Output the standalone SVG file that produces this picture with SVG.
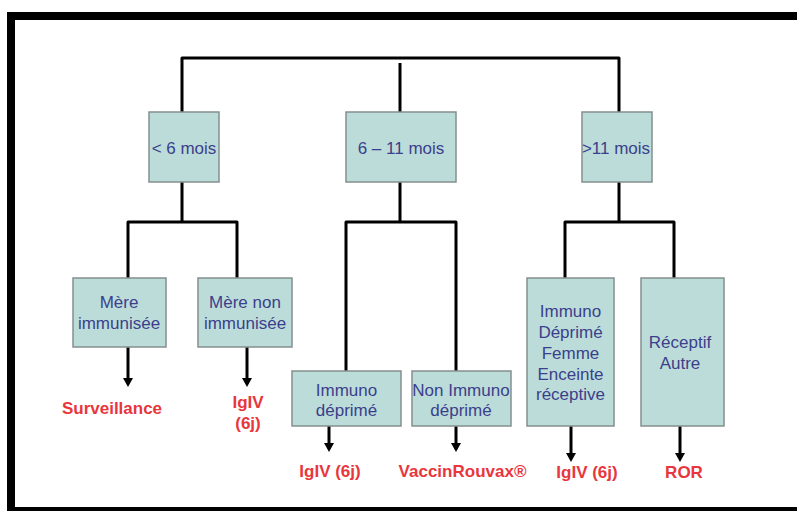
<svg xmlns="http://www.w3.org/2000/svg" width="797" height="511" viewBox="0 0 797 511">
<style>
.box{fill:#bbdcd8;stroke:#858f8e;stroke-width:1.5}
.lbl{font-family:"Liberation Sans",Arial,sans-serif;font-size:17px;fill:#3b3f8c;text-anchor:middle}
.out{font-family:"Liberation Sans",Arial,sans-serif;font-size:17px;font-weight:bold;fill:#e8363c;text-anchor:middle}
.ln{fill:none;stroke:#000;stroke-width:3;stroke-linejoin:round}
.hd{fill:#000}
</style>
<defs>
<path id="head" d="M-5,0 L5,0 L0,9 Z"/>
</defs>
<rect x="0" y="0" width="797" height="511" fill="#fff"/>
<rect x="11" y="16" width="800" height="495" fill="none" stroke="#000" stroke-width="8"/>
<g id="connectors">
<path class="ln" d="M182,112 V58 H619 V112"/>
<path class="ln" d="M400,63 V112"/>
<path class="ln" d="M182,182 V222"/>
<path class="ln" d="M128,278 V222 H237 V278"/>
<path class="ln" d="M400,182 V222"/>
<path class="ln" d="M346,371 V222 H456 V371"/>
<path class="ln" d="M619,182 V222"/>
<path class="ln" d="M565,278 V222 H674 V278"/>
<path class="ln" d="M128,347 V379"/>
<use href="#head" class="hd" x="128" y="378"/>
<path class="ln" d="M247,347 V379"/>
<use href="#head" class="hd" x="247" y="378"/>
<path class="ln" d="M329,426 V444"/>
<use href="#head" class="hd" x="329" y="443"/>
<path class="ln" d="M456,426 V444"/>
<use href="#head" class="hd" x="456" y="443"/>
<path class="ln" d="M571,426 V454"/>
<use href="#head" class="hd" x="571" y="453"/>
<path class="ln" d="M680,426 V454"/>
<use href="#head" class="hd" x="680" y="453"/>
</g>
<g id="n1"><rect class="box" x="149" y="112" width="70" height="70"/><text class="lbl" x="184" y="154">&lt; 6 mois</text></g>
<g id="n2"><rect class="box" x="346" y="112" width="110" height="70"/><text class="lbl" x="401" y="154">6 – 11 mois</text></g>
<g id="n3"><rect class="box" x="582" y="112" width="70" height="70"/><text class="lbl" x="616" y="154">&gt;11 mois</text></g>
<g id="n4"><rect class="box" x="73" y="278" width="93" height="69"/><text class="lbl" x="119" y="308">Mère</text><text class="lbl" x="119" y="329">immunisée</text></g>
<g id="n5"><rect class="box" x="198" y="278" width="94" height="69"/><text class="lbl" x="245" y="308">Mère non</text><text class="lbl" x="245" y="329">immunisée</text></g>
<g id="n6"><rect class="box" x="292" y="371" width="109" height="55"/><text class="lbl" x="346.5" y="396">Immuno</text><text class="lbl" x="346.5" y="416">déprimé</text></g>
<g id="n7"><rect class="box" x="412" y="371" width="99" height="55"/><text class="lbl" x="461" y="396">Non Immuno</text><text class="lbl" x="461" y="416">déprimé</text></g>
<g id="n8"><rect class="box" x="527" y="278" width="87" height="148"/><text class="lbl" x="570.5" y="317">Immuno</text><text class="lbl" x="570.5" y="338">Déprimé</text><text class="lbl" x="570.5" y="359">Femme</text><text class="lbl" x="570.5" y="380">Enceinte</text><text class="lbl" x="570.5" y="400">réceptive</text></g>
<g id="n9"><rect class="box" x="641" y="278" width="83" height="148"/><text class="lbl" x="680" y="348">Réceptif</text><text class="lbl" x="680" y="369">Autre</text></g>
<g id="outcomes">
<text class="out" x="112" y="414">Surveillance</text>
<text class="out" x="248" y="408">IgIV</text>
<text class="out" x="248" y="429">(6j)</text>
<text class="out" x="330" y="477">IgIV (6j)</text>
<text class="out" x="462.5" y="477">VaccinRouvax®</text>
<text class="out" x="587" y="478">IgIV (6j)</text>
<text class="out" x="684" y="478">ROR</text>
</g>
</svg>
